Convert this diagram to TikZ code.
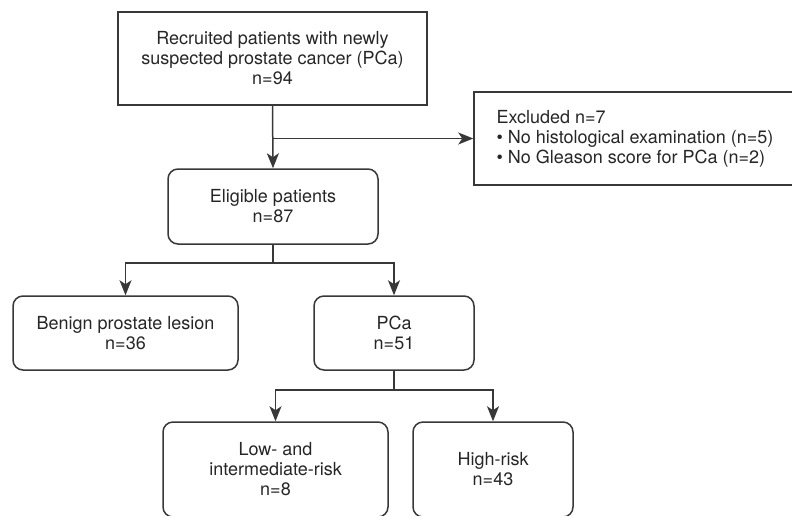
\documentclass[tikz,border=0pt]{standalone}
\usepackage{fontspec}
\setmainfont{TeX Gyre Heros}
\usetikzlibrary{arrows.meta}
\definecolor{linec}{HTML}{383838}
\definecolor{textc}{HTML}{262626}
\tikzset{
  base/.style={draw=linec, line width=1.5pt, text=textc, align=center,
    font=\fontsize{18}{20}\selectfont, inner sep=0pt},
  sqbox/.style={base},
  rbox/.style={base, rounded corners=10pt},
  conn/.style={draw=linec, line width=1.5pt},
  arr/.style={conn, -{Stealth[length=15pt,width=12pt,inset=4pt]}},
}
\begin{document}
\begin{tikzpicture}[x=1pt,y=-1pt]
\useasboundingbox (0,0) rectangle (792,515);
\clip (0,0) rectangle (792,515);
\node[sqbox, minimum width=309pt, minimum height=93pt] (top) at (272.5,58.5)
  {Recruited patients with newly\\suspected prostate cancer (PCa)\\n=94};
\node[sqbox, minimum width=322pt, minimum height=93pt, align=left] (excl) at (635,138.5)
  {Excluded n=7\\\textbullet\ No histological examination (n=5)\\\textbullet\ No Gleason score for PCa (n=2)};
\node[rbox, minimum width=210pt, minimum height=75pt] (elig) at (273,206.5)
  {Eligible patients\\n=87};
\node[rbox, minimum width=225pt, minimum height=74pt] (benign) at (125.5,333)
  {Benign prostate lesion\\n=36};
\node[rbox, minimum width=160pt, minimum height=74pt] (pca) at (394,333)
  {PCa\\n=51};
\node[rbox, minimum width=225pt, minimum height=95pt] (low) at (275.5,469.5)
  {Low- and\\intermediate-risk\\n=8};
\node[rbox, minimum width=160pt, minimum height=95pt] (high) at (493,469.5)
  {High-risk\\n=43};
\draw[arr] (top.south) -- (elig.north);
\draw[arr] (top.south |- excl.west) -- (excl.west);
\coordinate (b1) at (273,263);
\coordinate (b2) at (394,390);
\draw[conn] (elig.south) -- (b1);
\draw[arr] (b1) -| (benign.north);
\draw[arr] (b1) -| (pca.north);
\draw[conn] (pca.south) -- (b2);
\draw[arr] (b2) -| (low.north);
\draw[arr] (b2) -| (high.north);
\end{tikzpicture}
\end{document}
